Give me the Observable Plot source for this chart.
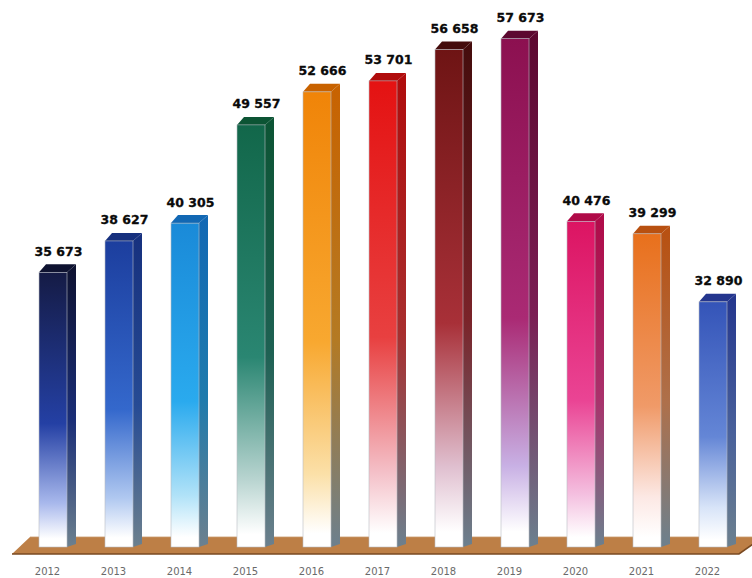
<!DOCTYPE html>
<html><head><meta charset="utf-8">
<script src="https://cdn.jsdelivr.net/npm/d3@7"></script>
<script src="https://cdn.jsdelivr.net/npm/@observablehq/plot@0.6"></script>
<style>body{margin:0;background:#fff}</style>
</head><body><div id="chart"></div>
<script>
const years = ["2012","2013","2014","2015","2016","2017","2018","2019","2020","2021","2022"];
const values = [35673, 38627, 40305, 49557, 52666, 53701, 56658, 57673, 40476, 39299, 32890];
const topColors = ["#0e1230","#16307e","#1268b4","#0c5434","#c86200","#b00c0c","#440c0c","#5c0830","#b00a48","#b85010","#24368e"];
const frontTop = ["#151b45","#1c3e9e","#1a8ad8","#12674a","#f08408","#e41212","#6e1414","#8c1050","#dc1462","#e8701c","#3454b8"];
const frontMid = ["#2440a4","#3468cc","#2aaaee","#2a8672","#f8a830","#e84040","#a83038","#aa2a74","#ea4494","#f09a68","#6486d6"];
const frontLight = ["#a8b8ec","#b0c8f0","#b0e2f8","#b8d4d0","#fbe0a8","#f4c0c8","#e0c0d0","#c8b0e4","#f4c0e0","#fce8e4","#d8e4f8"];

const data = years.map((year, i) => ({year, value: values[i], i}));
const BASE = 9800;
const DX = 9, DY = 8;
const fmt = v => d3.format(",")(v).replace(",", " ");

function defsMark() {
  const defs = d3.create("svg:defs");
  data.forEach(d => {
    const f = defs.append("linearGradient").attr("id", "gf" + d.i)
      .attr("x1", 0).attr("y1", 0).attr("x2", 0).attr("y2", 1);
    [[0, frontTop[d.i]], [0.55, frontMid[d.i]], [0.84, frontLight[d.i]], [0.97, "#ffffff"]]
      .forEach(([o, c]) => f.append("stop").attr("offset", o).attr("stop-color", c));
    const s = defs.append("linearGradient").attr("id", "gs" + d.i)
      .attr("x1", 0).attr("y1", 0).attr("x2", 0).attr("y2", 1);
    [[0, topColors[d.i]], [0.55, d3.color(frontMid[d.i]).darker(0.9).formatHex()], [1, "#6c808e"]]
      .forEach(([o, c]) => s.append("stop").attr("offset", o).attr("stop-color", c));
  });
  return defs.node();
}

function floorMark(index, {x, y}) {
  const [r0, r1] = x.range();
  const yb = y(BASE);
  const g = d3.create("svg:g");
  g.append("polygon")
    .attr("points", [[r0 - 12, yb + 7], [r0 + 6, yb - 10], [r1 + 22, yb - 10], [r1 - 2, yb + 7]].join(" "))
    .attr("fill", "#bd7f46");
  g.append("polyline")
    .attr("points", [[r0 - 12, yb + 7], [r1 - 2, yb + 7], [r1 + 22, yb - 10]].join(" "))
    .attr("fill", "none").attr("stroke", "#7a4a22").attr("stroke-width", 1.6);
  g.append("line")
    .attr("x1", r0 + 6).attr("y1", yb - 10).attr("x2", r1 + 22).attr("y2", yb - 10)
    .attr("stroke", "#c99a6c").attr("stroke-width", 0.8);
  return g.node();
}

function depthMark(index, {x, y}) {
  const bw = x.bandwidth();
  const g = d3.create("svg:g");
  data.forEach(d => {
    const x0 = x(d.year), x1 = x0 + bw, yt = y(d.value), yb = y(BASE);
    g.append("polygon")
      .attr("points", [[x1, yt], [x1 + DX, yt - DY], [x1 + DX, yb - 3], [x1, yb]].join(" "))
      .attr("fill", `url(#gs${d.i})`);
    g.append("polygon")
      .attr("points", [[x0, yt], [x0 + DX - 2, yt - DY], [x1 + DX, yt - DY], [x1, yt]].join(" "))
      .attr("fill", topColors[d.i]);
  });
  return g.node();
}

const chart = Plot.plot({
  width: 752,
  height: 578,
  marginLeft: 24,
  marginRight: 11,
  marginTop: 14,
  marginBottom: 31,
  style: {background: "white", overflow: "visible"},
  x: {domain: years, paddingInner: 0.5774, paddingOuter: 0.2, axis: null},
  y: {domain: [BASE, 60000], axis: null},
  color: {type: "identity"},
  marks: [
    defsMark,
    floorMark,
    depthMark,
    Plot.barY(data, {x: "year", y1: BASE, y2: "value", fill: d => `url(#gf${d.i})`, stroke: "#b8bcc4", strokeWidth: 0.6}),
    Plot.text(data, {x: "year", y: "value", text: d => fmt(d.value), dx: 5, dy: -17, lineAnchor: "bottom",
      fontWeight: "bold", fontSize: 12.5, fontFamily: "DejaVu Sans", fill: "#0a0a0a", stroke: "#0a0a0a", strokeWidth: 0.3}),
    Plot.text(data, {x: "year", y: BASE, text: "year", dx: -6, dy: 27, lineAnchor: "bottom",
      fontSize: 10, fontFamily: "DejaVu Sans", fill: "#6a6a6a"})
  ]
});
document.getElementById("chart").appendChild(chart);
</script>
</body></html>
